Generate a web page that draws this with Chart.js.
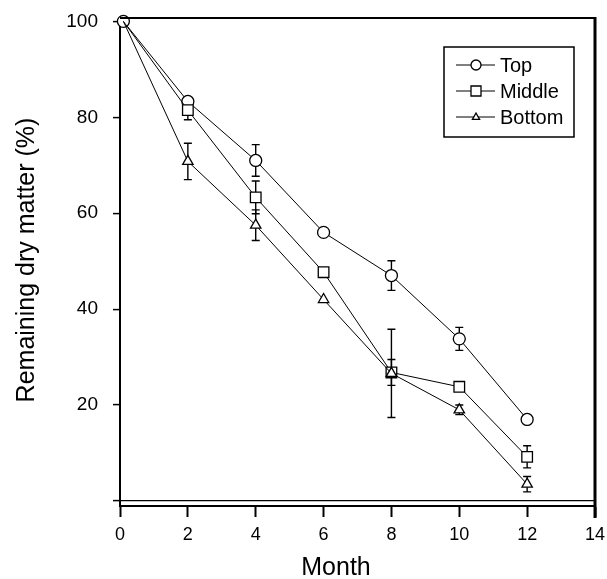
<!DOCTYPE html>
<html lang="en">
<head>
  <meta charset="UTF-8" />
  <title>Remaining dry matter</title>
  <style>
    html, body { margin: 0; padding: 0; background: #fff; }
    #wrap { width: 607px; height: 579px; position: relative; }
  </style>
</head>
<body>
  <div id="wrap"><canvas id="chart"></canvas></div>

  <script src="https://cdn.jsdelivr.net/npm/chart.js@4"></script>
  <script>
    // data
    const months = [0.1, 2, 4, 6, 8, 10, 12];
    const topVals = [100, 83.3, 71, 56, 47, 33.8, 17];
    const middleVals = [100, 81.5, 63.3, 47.7, 26.8, 23.8, 9.2];
    const bottomVals = [100, 70.8, 57.5, 42, 26.6, 19, 3.5];
    const topErr = [0, 0, 3.3, 0, 3.1, 2.4, 0];
    const middleErr = [0, 2, 3.4, 0, 2.7, 0, 2.3];
    const bottomErr = [0, 3.8, 3.2, 0, 9.2, 1, 1.6];
    const seriesNames = ['Top', 'Middle', 'Bottom'];
    const yTickValues = [0, 20, 40, 60, 80, 100];

    const FONT = "'Liberation Sans', Arial, sans-serif";

    function pts(vals) {
      return vals.map((v, i) => ({ x: months[i], y: v }));
    }

    // vertical error bars with caps, drawn under the markers
    const errorBars = {
      id: 'errorBars',
      beforeDatasetsDraw(chart) {
        const ctx = chart.ctx, xs = chart.scales.x, ys = chart.scales.y;
        ctx.save();
        ctx.strokeStyle = '#000';
        ctx.lineWidth = 1.4;
        chart.data.datasets.forEach(ds => {
          ds.data.forEach((p, i) => {
            const e = ds.err[i];
            if (!e) return;
            const px = xs.getPixelForValue(p.x);
            const hi = ys.getPixelForValue(p.y + e);
            const lo = ys.getPixelForValue(p.y - e);
            ctx.beginPath();
            ctx.moveTo(px, hi); ctx.lineTo(px, lo);
            ctx.moveTo(px - 4, hi); ctx.lineTo(px + 4, hi);
            ctx.moveTo(px - 4, lo); ctx.lineTo(px + 4, lo);
            ctx.stroke();
          });
        });
        ctx.restore();
      }
    };

    function marker(ctx, style, x, y, r) {
      ctx.beginPath();
      if (style === 'circle') {
        ctx.arc(x, y, r, 0, Math.PI * 2);
      } else if (style === 'rect') {
        ctx.rect(x - r, y - r, 2 * r, 2 * r);
      } else {
        ctx.moveTo(x, y - r);
        ctx.lineTo(x + r * 0.9, y + r * 0.6);
        ctx.lineTo(x - r * 0.9, y + r * 0.6);
        ctx.closePath();
      }
      ctx.fillStyle = '#fff';
      ctx.fill();
      ctx.stroke();
    }

    // frame, legend box and axis titles
    const decorations = {
      id: 'decorations',
      afterDraw(chart) {
        const ctx = chart.ctx, a = chart.chartArea;
        ctx.save();
        ctx.fillStyle = '#000';
        // top and right frame
        ctx.fillRect(a.left, a.top - 1, a.right - a.left, 2);
        ctx.fillRect(a.right - 1.5, a.top - 1, 3, a.bottom + 13 - a.top);

        // legend
        ctx.strokeStyle = '#000';
        ctx.lineWidth = 1.5;
        ctx.strokeRect(444, 47, 130, 90);
        const styles = ['circle', 'rect', 'triangle'];
        const sizes = [5, 5, 4];
        ctx.font = '20px ' + FONT;
        ctx.textBaseline = 'middle';
        ctx.textAlign = 'left';
        seriesNames.forEach((name, i) => {
          const ly = 65 + i * 26;
          ctx.lineWidth = 1;
          ctx.beginPath();
          ctx.moveTo(456, ly); ctx.lineTo(495, ly);
          ctx.stroke();
          ctx.lineWidth = 1.3;
          marker(ctx, styles[i], 476, ly, sizes[i]);
          ctx.fillStyle = '#000';
          ctx.fillText(name, 500, ly + 1);
        });

        // axis titles
        ctx.fillStyle = '#000';
        ctx.font = '25px ' + FONT;
        ctx.textAlign = 'center';
        ctx.textBaseline = 'alphabetic';
        ctx.fillText('Month', 336, 575);
        ctx.translate(34, 260);
        ctx.rotate(-Math.PI / 2);
        ctx.fillText('Remaining dry matter (%)', 0, 0);
        ctx.restore();
      }
    };

    // only the Top circle shows at the shared starting point
    function line(label, vals, err, style, radius, order, showFirst) {
      const r = c => (c.dataIndex === 0 && !showFirst ? 0 : radius);
      return {
        label: label,
        data: pts(vals),
        err: err,
        showLine: true,
        clip: false,
        borderColor: '#000',
        borderWidth: 1,
        pointStyle: style,
        pointRadius: r,
        pointHoverRadius: r,
        pointBackgroundColor: '#fff',
        pointBorderColor: '#000',
        pointBorderWidth: 1.3,
        order: order
      };
    }

    new Chart(document.getElementById('chart'), {
      type: 'scatter',
      data: {
        datasets: [
          line(seriesNames[0], topVals, topErr, 'circle', 6, 2, true),
          line(seriesNames[1], middleVals, middleErr, 'rect', 7.5, 1, false),
          line(seriesNames[2], bottomVals, bottomErr, 'triangle', 6, 0, false)
        ]
      },
      options: {
        responsive: true,
        maintainAspectRatio: false,
        animation: false,
        layout: { padding: { top: 18, right: 12, left: 0, bottom: 0 } },
        plugins: { legend: { display: false }, tooltip: { enabled: false } },
        scales: {
          x: {
            type: 'linear',
            min: 0,
            max: 14,
            afterFit: s => { s.height = 73; s.paddingLeft = 0; s.paddingRight = 0; },
            ticks: { stepSize: 2, color: '#000', padding: 7, font: { family: FONT, size: 18 } },
            grid: { drawOnChartArea: false, color: '#000', tickLength: 11, tickWidth: 2 },
            border: { display: true, color: '#000', width: 2 }
          },
          y: {
            min: -1.05,
            max: 100.7,
            afterFit: s => { s.width = 120; s.paddingTop = 0; s.paddingBottom = 0; },
            afterBuildTicks: s => { s.ticks = yTickValues.map(v => ({ value: v })); },
            ticks: {
              color: '#000',
              padding: 15,
              font: { family: FONT, size: 19 },
              callback: v => (v === 0 ? '' : v)
            },
            grid: {
              color: c => (c.tick && c.tick.value === 0 ? '#000' : 'rgba(0,0,0,0)'),
              tickColor: '#000',
              tickLength: 7,
              tickWidth: 1.5,
              lineWidth: 1.2
            },
            border: { display: true, color: '#000', width: 2 }
          }
        }
      },
      plugins: [errorBars, decorations]
    });
  </script>
</body>
</html>
